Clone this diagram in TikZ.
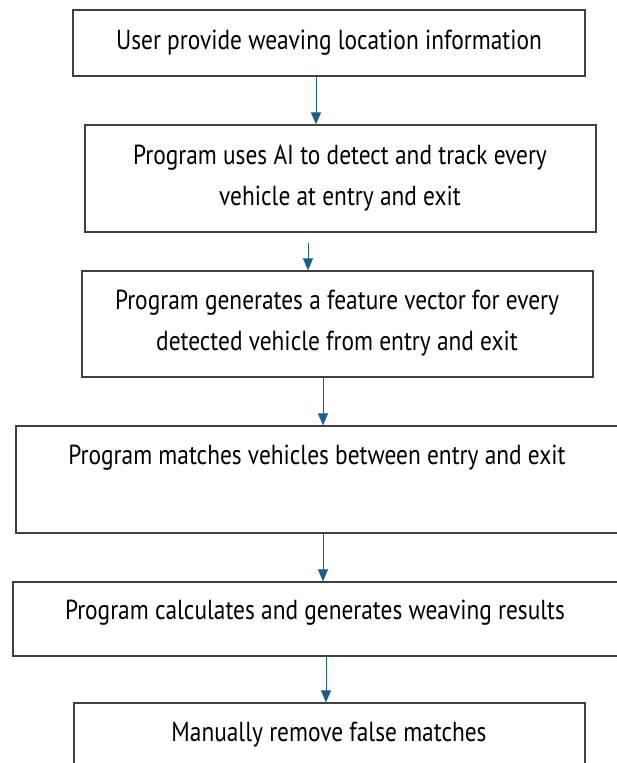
\documentclass[tikz,border=0pt]{standalone}
\usepackage{fontspec}
\setmainfont{PT Sans}[FakeStretch=0.85]
\usetikzlibrary{arrows.meta}
\definecolor{flowblue}{RGB}{31,95,133}
\definecolor{boxgray}{RGB}{64,64,64}
\begin{document}
\begin{tikzpicture}[x=1pt,y=-1pt,
    box/.style={draw=boxgray,line width=1.2pt,inner sep=0pt},
    txt/.style={align=center,inner sep=0pt,font=\fontsize{27.5}{41}\selectfont},
    flow/.style={draw=flowblue,line width=0.9pt,-{Triangle[length=12pt,width=10pt]},fill=flowblue}]
    \clip (0,0) rectangle (617,763);

    \node[box,minimum width=512pt,minimum height=66pt] (b1) at (329,43) {};
    \node[box,minimum width=511pt,minimum height=107pt] (b2) at (340.5,178.5) {};
    \node[box,minimum width=511pt,minimum height=106pt] (b3) at (337.5,324) {};
    \node[box,minimum width=603pt,minimum height=107pt] (b4) at (317.5,479.5) {};
    \node[box,minimum width=606pt,minimum height=74pt] (b5) at (316,619) {};
    \node[box,minimum width=511pt,minimum height=65pt] (b6) at (329.5,735.5) {};

    \node[txt] (t1) at (329,43) {User provide weaving location information};
    \node[txt] (t2) at (340,178) {Program uses AI to detect and track every\\vehicle at entry and exit};
    \node[txt] (t3) at (337,323) {Program generates a feature vector for every\\detected vehicle from entry and exit};
    \node[txt] (t4) at (317,458) {Program matches vehicles between entry and exit};
    \node[txt] (t5) at (315,613) {Program calculates and generates weaving results};
    \node[txt] (t6) at (329,735) {Manually remove false matches};

    \coordinate (s2) at (308,243);
    \draw[flow] (b1.south -| 316,0) -- (b2.north -| 316,0);
    \draw[flow] (s2) -- (b3.north -| s2);
    \draw[flow] (b3.south -| 323,0) -- (b4.north -| 323,0);
    \draw[flow] (b4.south -| 323,0) -- (b5.north -| 323,0);
    \draw[flow] (b5.south -| 326,0) -- (b6.north -| 326,0);
\end{tikzpicture}
\end{document}
